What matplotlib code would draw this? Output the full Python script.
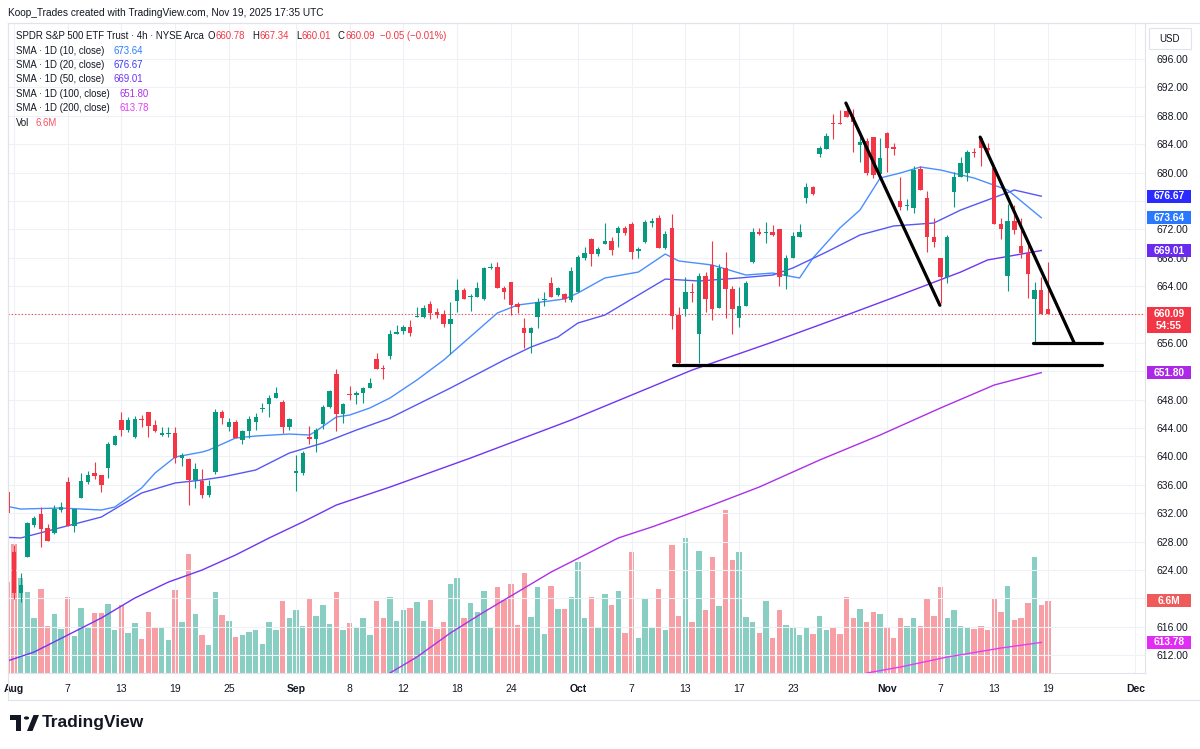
import numpy as np
import pandas as pd
import matplotlib
matplotlib.use("Agg")
import matplotlib.pyplot as plt
from matplotlib.patches import Rectangle, Circle, Polygon
from matplotlib.lines import Line2D

plt.rcParams['font.family'] = ['Liberation Sans', 'DejaVu Sans']

# SPY 4h candles, afternoon bar of Jul 31 .. morning bar of Nov 19 2025
opens = [
    634.98, 626.52, 620.74, 625.82, 630.33, 631.88, 629.90, 629.20, 632.44, 636.39,
    630.19, 634.13, 636.39, 637.65, 637.37, 638.36, 641.60, 645.13, 643.73, 642.73,
    645.27, 646.25, 644.42, 643.01, 643.15, 643.29, 639.77, 639.63, 636.67, 636.53,
    634.56, 637.80, 646.25, 644.14, 644.84, 642.31, 643.57, 644.84, 646.68, 647.38,
    648.23, 647.66, 644.14, 637.65, 637.65, 642.73, 642.45, 644.56, 646.96, 651.61,
    645.97, 648.79, 648.65, 648.93, 649.64, 653.72, 652.45, 654.15, 657.25, 657.67,
    658.23, 659.64, 659.64, 661.47, 660.35, 660.07, 658.65, 661.90, 663.45, 662.46,
    662.46, 662.18, 666.55, 666.69, 663.73, 664.58, 661.47, 658.09, 657.39, 659.64,
    662.04, 664.43, 662.74, 662.88, 662.04, 663.17, 667.96, 670.64, 668.52, 669.93,
    670.35, 671.48, 672.19, 672.75, 668.94, 670.21, 672.89, 673.59, 669.37, 672.19,
    659.92, 660.77, 663.17, 657.25, 665.42, 666.97, 660.91, 666.55, 663.59, 659.50,
    661.19, 667.39, 671.62, 671.55, 671.62, 672.05, 665.42, 667.96, 670.92, 676.41,
    677.96, 682.61, 683.32, 686.98, 686.98, 688.68, 687.83, 683.88, 684.45, 685.01,
    679.80, 685.57, 683.60, 675.99, 675.29, 675.00, 680.50, 676.41, 670.92, 667.96,
    665.28, 677.26, 679.37, 679.94, 682.90, 684.87, 683.46, 680.64, 672.75, 665.42,
    673.17, 669.65, 668.66, 662.18, 663.45, 660.78]
highs = [
    635.25, 627.51, 623.56, 630.75, 631.60, 632.86, 630.47, 633.14, 633.57, 637.09,
    632.58, 637.65, 637.94, 639.20, 637.37, 642.03, 643.01, 646.25, 645.55, 645.69,
    645.83, 646.25, 645.13, 644.14, 644.14, 644.14, 640.47, 639.77, 639.07, 638.22,
    636.67, 646.68, 646.53, 645.41, 645.13, 643.71, 645.69, 646.11, 647.52, 648.65,
    649.78, 647.94, 645.41, 640.19, 640.75, 644.28, 644.00, 647.24, 649.35, 652.31,
    647.52, 649.92, 649.21, 649.78, 651.05, 654.57, 652.88, 657.81, 658.51, 658.51,
    659.22, 661.05, 661.33, 661.90, 660.91, 660.63, 661.76, 665.00, 663.73, 662.88,
    664.58, 666.69, 667.25, 667.39, 664.01, 664.58, 661.76, 659.50, 658.23, 662.32,
    663.17, 665.28, 663.87, 663.03, 666.69, 668.38, 669.51, 670.78, 669.51, 672.89,
    670.92, 672.47, 672.47, 673.03, 669.51, 673.31, 673.59, 674.02, 671.76, 674.16,
    661.05, 665.28, 664.43, 665.84, 665.98, 670.35, 667.11, 668.80, 664.01, 663.87,
    664.72, 672.19, 672.19, 673.03, 672.61, 672.05, 668.38, 671.62, 672.75, 678.53,
    678.10, 683.74, 685.57, 688.25, 688.82, 689.66, 688.96, 685.86, 684.87, 685.01,
    684.87, 685.72, 684.17, 679.37, 676.27, 680.92, 680.92, 677.40, 673.59, 667.96,
    671.20, 680.08, 682.19, 683.18, 683.46, 685.01, 684.17, 680.92, 673.59, 675.57,
    675.43, 673.59, 669.93, 664.58, 665.28, 667.34]
lows = [
    631.80, 619.90, 619.48, 625.82, 630.05, 627.22, 628.07, 629.00, 632.16, 630.19,
    629.34, 634.13, 636.10, 636.81, 634.98, 636.95, 641.60, 642.87, 643.43, 642.59,
    644.14, 642.73, 643.43, 642.87, 642.73, 639.07, 638.64, 633.14, 635.54, 634.13,
    634.27, 637.51, 644.56, 643.57, 642.59, 641.74, 642.59, 643.73, 646.25, 645.55,
    648.23, 643.29, 643.73, 635.12, 637.37, 641.74, 640.61, 643.85, 646.82, 643.57,
    644.70, 647.94, 647.38, 647.52, 649.64, 652.31, 650.90, 653.72, 657.25, 657.25,
    656.96, 659.64, 659.50, 659.36, 659.50, 658.23, 654.43, 660.35, 662.18, 660.49,
    662.46, 662.04, 666.41, 663.73, 662.18, 659.92, 660.21, 655.27, 654.57, 658.09,
    661.19, 662.46, 662.60, 661.76, 661.76, 663.17, 667.68, 666.83, 668.24, 669.93,
    668.38, 669.51, 671.20, 667.82, 667.96, 670.07, 672.33, 669.37, 669.23, 657.95,
    652.88, 659.78, 661.76, 653.16, 660.35, 659.22, 660.91, 659.50, 657.25, 658.23,
    661.19, 667.25, 671.20, 670.07, 671.06, 664.01, 663.59, 667.96, 670.92, 675.71,
    676.84, 682.19, 683.32, 684.73, 686.84, 687.83, 682.90, 681.49, 679.66, 679.23,
    679.66, 680.08, 682.47, 674.72, 674.72, 674.30, 677.54, 668.80, 669.51, 661.61,
    664.43, 675.15, 679.37, 678.81, 682.19, 680.92, 682.47, 672.75, 670.64, 663.31,
    671.34, 667.96, 662.32, 655.98, 660.07, 660.01]
closes = [
    632.02, 620.74, 621.87, 630.61, 631.31, 629.76, 628.07, 632.58, 632.86, 630.19,
    632.58, 636.53, 637.37, 637.23, 635.96, 641.74, 642.87, 643.73, 645.13, 645.27,
    645.13, 644.28, 643.57, 643.29, 643.29, 639.77, 640.19, 636.67, 638.22, 634.56,
    635.82, 646.25, 645.41, 644.84, 642.59, 643.57, 645.27, 645.55, 646.82, 648.23,
    648.93, 644.14, 645.27, 637.94, 640.47, 642.45, 643.71, 646.96, 649.21, 645.97,
    647.38, 648.65, 648.93, 649.64, 650.34, 652.31, 652.31, 657.25, 657.53, 658.23,
    657.39, 659.78, 660.91, 660.21, 659.92, 658.65, 659.36, 663.45, 662.18, 662.60,
    663.73, 666.55, 666.69, 663.73, 663.17, 661.33, 661.05, 657.39, 658.09, 661.76,
    662.18, 662.46, 663.73, 662.18, 666.13, 668.10, 668.66, 668.52, 669.23, 670.35,
    669.09, 672.19, 671.48, 668.80, 669.23, 673.03, 673.17, 669.37, 671.34, 659.78,
    653.16, 663.17, 663.03, 665.42, 662.18, 660.77, 666.55, 663.59, 660.77, 661.19,
    664.43, 671.62, 671.34, 671.62, 671.20, 665.28, 667.96, 671.06, 671.62, 677.96,
    676.98, 683.46, 685.15, 686.84, 686.84, 687.83, 687.13, 684.31, 679.94, 679.66,
    682.05, 683.46, 683.32, 675.15, 675.43, 680.36, 677.54, 670.92, 670.21, 665.28,
    670.92, 679.37, 681.35, 682.90, 682.75, 683.46, 683.18, 672.75, 672.05, 673.17,
    671.90, 668.66, 665.70, 663.45, 660.07, 660.09]
# volume in millions
volumes = [
    8.3, 11.8, 8.7, 7.4, 5.0, 7.7, 4.3, 5.4, 4.0, 7.0,
    3.4, 6.0, 4.2, 5.5, 5.5, 6.3, 3.9, 6.2, 3.7, 4.6,
    3.1, 5.6, 4.2, 4.1, 3.0, 7.6, 4.7, 10.9, 5.4, 3.5,
    2.6, 7.4, 5.3, 4.8, 3.3, 3.5, 3.8, 3.9, 2.7, 4.7,
    3.9, 6.6, 5.0, 5.8, 4.3, 6.9, 5.2, 6.2, 4.5, 7.4,
    3.9, 4.6, 4.1, 5.0, 3.5, 6.6, 5.0, 7.0, 4.8, 5.8,
    6.0, 6.5, 4.8, 6.7, 4.0, 4.7, 8.2, 8.7, 5.0, 6.4,
    5.6, 7.5, 4.1, 7.9, 6.7, 8.2, 4.4, 9.2, 5.1, 7.9,
    3.6, 8.0, 5.9, 5.9, 7.0, 10.2, 5.0, 7.0, 4.1, 7.2,
    6.2, 7.5, 3.7, 11.1, 3.2, 6.8, 4.1, 7.7, 3.9, 11.7,
    5.2, 12.4, 4.7, 11.2, 5.8, 10.6, 6.1, 14.9, 10.4, 11.1,
    5.1, 4.7, 3.7, 6.6, 3.2, 5.8, 4.4, 4.2, 3.5, 4.2,
    3.6, 5.2, 3.9, 4.2, 3.6, 7.0, 5.0, 5.9, 4.7, 5.6,
    5.4, 4.2, 3.2, 5.0, 4.3, 5.0, 4.3, 6.9, 5.2, 7.9,
    5.0, 5.8, 4.3, 4.2, 4.0, 4.3, 3.9, 6.8, 5.6, 8.0,
    4.9, 5.0, 6.4, 10.6, 6.2, 6.6]

# daily SMAs (bar index, value)
sma10_bar = [-1, 2, 8, 14, 16, 20, 22, 25, 29, 30, 34, 37, 42, 45, 46, 49, 51, 54, 57, 61,
             65, 73, 76, 83, 85, 89, 94, 98, 100, 105, 110, 114, 118, 120, 124, 127, 130,
             133, 136, 139, 144, 149, 154]
sma10_val = [633.14, 632.58, 632.72, 632.44, 632.86, 635.54, 637.65, 639.91, 640.61, 640.89,
             642.59, 642.87, 643.15, 643.01, 643.57, 645.55, 645.83, 646.82, 648.23, 650.76,
             653.58, 660.21, 661.33, 662.18, 663.03, 665.14, 665.98, 668.52, 667.54, 666.97,
             665.56, 665.84, 665.14, 667.96, 672.19, 674.72, 679.23, 679.94, 680.78, 680.36,
             679.23, 677.54, 673.64]
sma20_bar = [-1, 2, 14, 20, 25, 29, 32, 37, 42, 47, 52, 57, 66, 74, 78, 82, 85, 89, 94, 98,
             103, 109, 114, 117, 122, 127, 132, 138, 142, 144, 150, 154]
sma20_val = [628.64, 628.50, 631.45, 634.84, 636.25, 636.67, 637.09, 638.08, 640.47, 641.88,
             643.71, 645.41, 649.63, 653.58, 655.41, 656.82, 658.80, 659.92, 662.74, 664.99,
             664.72, 665.14, 665.56, 666.55, 668.80, 671.20, 672.47, 672.89, 674.72, 675.43,
             677.54, 676.67]
sma50_bar = [0, 4, 9, 14, 19, 24, 29, 34, 39, 44, 49, 57, 69, 84, 102, 114, 125, 133, 142, 146, 154]
sma50_val = [611.16, 612.43, 614.82, 617.22, 620.04, 622.29, 623.98, 626.10, 628.50, 630.75,
             633.14, 635.68, 639.77, 645.13, 652.17, 656.12, 659.92, 662.74, 665.98, 667.68,
             669.01]
sma100_bar = [57, 61, 66, 71, 76, 81, 86, 91, 96, 101, 105, 112, 121, 130, 139, 147, 154]
sma100_val = [609.47, 611.72, 615.11, 618.07, 620.88, 623.70, 626.10, 628.50, 630.05, 631.74,
              633.14, 635.68, 639.49, 643.01, 646.82, 650.06, 651.80]
sma200_bar = [128, 133, 140, 148, 154]
sma200_val = [609.47, 610.31, 611.72, 612.99, 613.78]

# hand-drawn trend lines (bar index, price)
line_a = ([124.9, 138.9], [689.8, 661.3])
line_b = ([144.9, 158.9], [685.0, 656.0])
support_a = ([152.8, 163.0], [656.0, 656.0])
support_b = ([99.1, 163.0], [652.9, 652.9])

# time axis
sessions = pd.bdate_range('2025-07-31', '2025-12-01').drop(pd.to_datetime(['2025-09-01', '2025-11-27']))
half_day = pd.Timestamp('2025-11-28')
tick_dates = ['2025-08-01', '2025-08-07', '2025-08-13', '2025-08-19', '2025-08-25',
              '2025-09-02', '2025-09-08', '2025-09-12', '2025-09-18', '2025-09-24',
              '2025-10-01', '2025-10-07', '2025-10-13', '2025-10-17', '2025-10-23',
              '2025-11-03', '2025-11-07', '2025-11-13', '2025-11-19', '2025-12-01']
tick_labels = ['Aug', '7', '13', '19', '25', 'Sep', '8', '12', '18', '24',
               'Oct', '7', '13', '17', '23', 'Nov', '7', '13', '19', 'Dec']
months = {'Aug', 'Sep', 'Oct', 'Nov', 'Dec'}
price_ticks = np.arange(612, 697, 4)
hidden_ticks = {620, 652, 660, 676}   # sit fully under the value tags

bar_days = []
for d in sessions:
    bar_days += [d] * (1 if d == half_day else 2)
bar_days = bar_days[1:]  # chart opens on the afternoon bar of Jul 31
first_bar = {}
for i, d in enumerate(bar_days):
    first_bar.setdefault(d, i)
tick_pos = [first_bar[pd.Timestamp(t)] for t in tick_dates]

TXT = '#131722'
UP, DOWN = '#089981', '#f23645'
C10, C20, C50, C100, C200 = '#2a7bff', '#3a3af5', '#6f35f2', '#ab30ea', '#e23cf7'
GRID = '#eef1f6'
EDGE = '#e0e3eb'

W, H = 1200, 749
fig = plt.figure(figsize=(W / 100, H / 100), dpi=100)
fig.patch.set_facecolor('white')
pl, pr, pt, pb = 8, 1145, 23, 673
rect = [pl / W, 1 - pb / H, (pr - pl) / W, (pb - pt) / H]

axv = fig.add_axes(rect)
ax = fig.add_axes(rect, sharex=axv)
ax.patch.set_visible(False)

x = np.arange(len(opens))
o, h, l, c = map(np.array, (opens, highs, lows, closes))
col = np.where(c >= o, UP, DOWN)

# volume overlay
axv.bar(x, volumes, width=0.8, color=col, alpha=0.48, linewidth=0)
axv.set_ylim(0, (pb - pt) / 10.91)
axv.set_yticks([])
axv.tick_params(axis='x', labelbottom=False, length=0)
for s in axv.spines.values():
    s.set_visible(False)

# moving averages
ax.plot(sma200_bar, sma200_val, color=C200, lw=1.0, zorder=3)
ax.plot(sma100_bar, sma100_val, color=C100, lw=1.0, zorder=3)
ax.plot(sma50_bar, sma50_val, color=C50, lw=1.0, zorder=3)
ax.plot(sma20_bar, sma20_val, color=C20, lw=1.0, zorder=3, alpha=0.85)
ax.plot(sma10_bar, sma10_val, color=C10, lw=1.0, zorder=3, alpha=0.85)

# candles
ax.vlines(x, l, h, colors=col, lw=0.8, zorder=4)
ax.bar(x, np.maximum(np.abs(c - o), 0.12), bottom=np.minimum(o, c), width=0.66,
       color=col, linewidth=0, zorder=5)

# last price line
ax.axhline(closes[-1], color=DOWN, lw=0.8, ls=(0, (1, 2)), zorder=2)

# drawings
for xs, ys in (line_a, line_b, support_a, support_b):
    ax.plot(xs, ys, color='black', lw=2.3, solid_capstyle='round', zorder=7)

ax.set_xlim((8 - 7.3) / 6.714, (1145 - 7.3) / 6.714)
ax.set_ylim(609.47, 701.08)
ax.yaxis.tick_right()
ax.set_yticks(price_ticks)
ax.set_yticklabels(['' if v in hidden_ticks else f'{v:.2f}' for v in price_ticks])
ax.set_xticks(tick_pos)
ax.set_xticklabels(tick_labels)
for lab in ax.get_xticklabels():
    if lab.get_text() in months:
        lab.set_fontweight('bold')
ax.tick_params(axis='y', length=0, pad=8, labelsize=7.5, labelcolor=TXT)
ax.tick_params(axis='x', length=0, pad=8, labelsize=7.5, labelcolor=TXT)
ax.grid(True, color=GRID, lw=0.8)
ax.set_axisbelow(True)
for s in ax.spines.values():
    s.set_color(EDGE)
    s.set_linewidth(0.8)

# frame lines outside the pane
fig.add_artist(Line2D([pl / W, 1], [1 - pt / H] * 2, color=EDGE, lw=0.8))
fig.add_artist(Line2D([pl / W, 1], [1 - 700 / H] * 2, color=EDGE, lw=0.8))
fig.add_artist(Line2D([pl / W] * 2, [1 - 700 / H, 1 - pt / H], color=EDGE, lw=0.8))


def put(px, py, s, color=TXT, size=6.9, **kw):
    fig.text(px / W, 1 - py / H, s, color=color, fontsize=size, va='center', ha='left', **kw)


def tag(axis, val, lines, color):
    yc = axis.transData.transform((0, val))[1]
    top = yc + 6.5
    hh = 13 * len(lines)
    fig.add_artist(Rectangle((1147 / W, (top - hh) / H), 44 / W, hh / H,
                             transform=fig.transFigure, fc=color, ec='none', zorder=5))
    for i, s in enumerate(lines):
        fig.text(1169 / W, (top - 6.5 - 12.5 * i) / H, s, ha='center', va='center',
                 color='white', fontsize=7.3, fontweight='bold', zorder=6)


# header
put(8, 12.7, 'Koop_Trades created with TradingView.com, Nov 19, 2025 17:35 UTC', size=7.3)
put(15.7, 35.7, 'SPDR S&P 500 ETF Trust · 4h · NYSE Arca')
for lx, letter, val in ((208, 'O', '660.78'), (252, 'H', '667.34'), (296, 'L', '660.01'), (338, 'C', '660.09')):
    put(lx, 35.7, letter)
    put(lx + (5.4 if letter == 'L' else 7.2), 35.7, val, color=DOWN)
put(380, 35.7, '\u22120.05 (\u22120.01%)', color=DOWN)
sma_rows = [('SMA · 1D (10, close)', '673.64', C10, 113.3),
            ('SMA · 1D (20, close)', '676.67', C20, 113.3),
            ('SMA · 1D (50, close)', '669.01', C50, 113.3),
            ('SMA · 1D (100, close)', '651.80', C100, 119),
            ('SMA · 1D (200, close)', '613.78', C200, 119)]
for i, (name, val, cc, vx) in enumerate(sma_rows):
    yy = 50.7 + 14.4 * i
    put(15.7, yy, name)
    put(vx, yy, val, color=cc)
put(15.7, 123.3, 'Vol')
put(35.7, 123.3, '6.6M', color='#f7525f')

# price scale tags
fig.add_artist(Rectangle((1149 / W, 1 - 49 / H), 42 / W, 21 / H, transform=fig.transFigure,
                         fc='white', ec=EDGE, lw=0.8, zorder=5))
fig.text(1170 / W, 1 - 38.5 / H, 'USD', ha='center', va='center', fontsize=7, color=TXT, zorder=6)
tag(ax, 676.67, ['676.67'], '#2b2bff')
tag(ax, 673.64, ['673.64'], '#2979ff')
tag(ax, 669.01, ['669.01'], '#6a2af0')
tag(ax, 660.09, ['660.09', '54:55'], DOWN)
tag(ax, 651.80, ['651.80'], '#aa28e6')
tag(axv, 6.6, ['6.6M'], '#ef5a5a')
tag(ax, 613.78, ['613.78'], '#e02cf5')

# TradingView logo
for patch in (Rectangle((10 / W, 1 - 720 / H), 11 / W, 5 / H),
              Rectangle((16 / W, 1 - 731 / H), 5 / W, 16 / H),
              Polygon([(27 / W, 1 - 731 / H), (33.5 / W, 1 - 715 / H), (39 / W, 1 - 715 / H), (32.5 / W, 1 - 731 / H)])):
    patch.set_transform(fig.transFigure)
    patch.set_facecolor(TXT)
    patch.set_edgecolor('none')
    fig.add_artist(patch)
fig.add_artist(Circle((26.5 / W, 1 - 718 / H), 2.6 / W, transform=fig.transFigure, fc=TXT, ec='none'))
fig.text(42 / W, 1 - 722 / H, 'TradingView', fontsize=12.5, fontweight='bold', color=TXT, va='center', ha='left')

fig.savefig('out.png', dpi=100)
